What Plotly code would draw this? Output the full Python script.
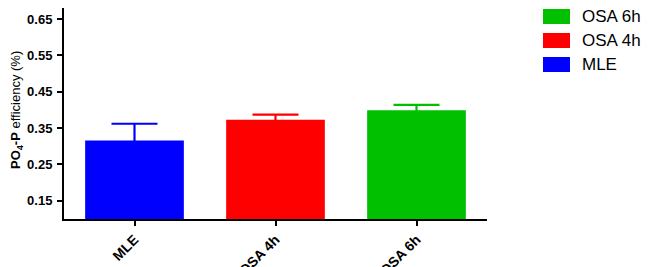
import plotly.graph_objects as go

categories = ["MLE", "OSA 4h", "OSA 6h"]
values = [0.316, 0.373, 0.399]
errors = [0.046, 0.014, 0.015]
colors = ["#0000FF", "#FF0000", "#00C000"]
ytick_vals = [0.15, 0.25, 0.35, 0.45, 0.55, 0.65]
ytick_text = ["0.15", "0.25", "0.35", "0.45", "0.55", "0.65"]

# the page body has an 8px default margin; lay out in window pixels
OFF = 8
W, H = 649 - OFF, 267 - OFF
ML, MR, MT, MB = 64 - OFF, 162, 0, 48
PW, PH = W - ML - MR, H - MT - MB
FONT = "Liberation Sans, Arial, Helvetica, sans-serif"


def px2paper(px, py):
    """window pixel -> paper coords"""
    return (px - OFF - ML) / PW, 1 - (py - OFF - MT) / PH


fig = go.Figure()
for c, v, e, col in zip(categories, values, errors, colors):
    fig.add_trace(go.Bar(
        x=[c], y=[v], width=0.7, marker=dict(color=col, line=dict(width=0)),
        error_y=dict(type="data", symmetric=False, array=[e], arrayminus=[0.01],
                     color=col, thickness=2.2, width=23),
        showlegend=False,
    ))

# legend (reverse order, like the reference)
rows_y = [16.5, 40.5, 64.5]
for i, (c, col) in enumerate(reversed(list(zip(categories, colors)))):
    cy = rows_y[i]
    x0, y0 = px2paper(543, cy - 7.5)
    x1, y1 = px2paper(570, cy + 7.5)
    fig.add_shape(type="rect", xref="paper", yref="paper", x0=x0, x1=x1,
                  y0=y1, y1=y0, fillcolor=col, line=dict(width=0))
    tx, ty = px2paper(580, cy)
    fig.add_annotation(xref="paper", yref="paper", x=tx, y=ty, text=c,
                       showarrow=False, xanchor="left", yanchor="middle",
                       font=dict(family=FONT, size=17, color="black"))

# y title
tx, ty = px2paper(16, 110)
fig.add_annotation(xref="paper", yref="paper", x=tx, y=ty,
                   text="<b>PO<sub>4</sub>-P</b> efficiency (%)",
                   textangle=-90, showarrow=False, xanchor="center",
                   yanchor="middle", font=dict(family=FONT, size=13, color="black"))

fig.update_layout(
    width=W, height=H, margin=dict(l=ML, r=MR, t=MT, b=MB, autoexpand=False),
    plot_bgcolor="white", paper_bgcolor="white",
    font=dict(family=FONT, color="black"),
)
fig.update_xaxes(
    range=[-0.5, 2.5], showline=True, linecolor="black", linewidth=2,
    ticks="outside", ticklen=5, tickwidth=2, tickcolor="black",
    tickangle=-45, tickfont=dict(family=FONT, size=14, weight="bold"),
    showgrid=False, zeroline=False,
)
fig.update_yaxes(
    range=[0.1, 0.1 + (219.3 - OFF) / 364], showline=True, linecolor="black",
    linewidth=2, ticks="outside", ticklen=5, tickwidth=2, tickcolor="black",
    tickvals=ytick_vals, ticktext=ytick_text, ticklabelstandoff=2,
    tickfont=dict(family=FONT, size=13, weight="bold"),
    showgrid=False, zeroline=False,
)

fig.write_html("out.html")
